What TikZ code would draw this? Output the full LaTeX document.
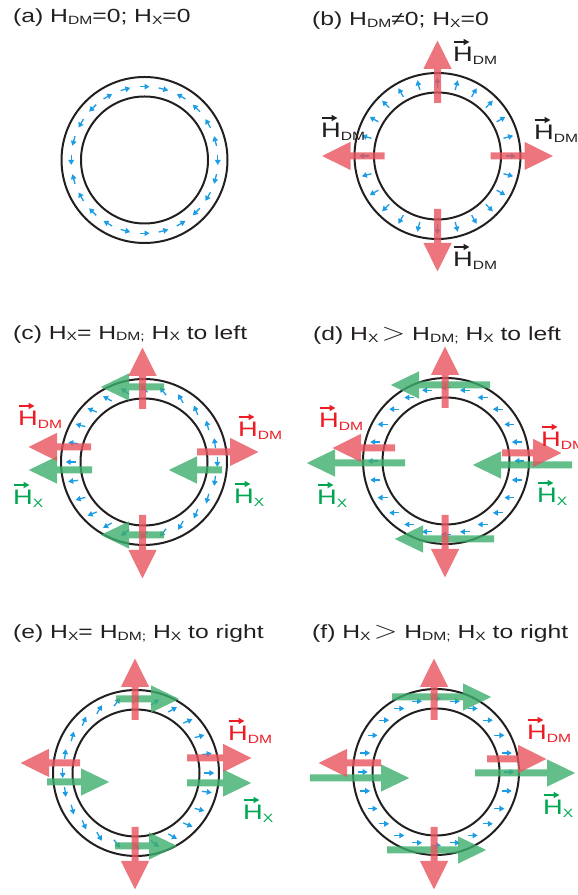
\documentclass[tikz,border=0pt]{standalone}
\usepackage{fontspec}
\setmainfont{Liberation Sans}[FakeStretch=1.3]
\usepackage{xcolor}
\usepackage{graphicx}
\usepackage{tikz}
\usetikzlibrary{arrows.meta}
\definecolor{inkblack}{HTML}{231F20}
\definecolor{spinblue}{HTML}{1B9CE5}
\definecolor{dmpink}{HTML}{E8545E}
\definecolor{xgreen}{HTML}{3DAE6C}
\definecolor{dmred}{HTML}{ED1C24}
\definecolor{hxgreen}{HTML}{00A651}
\newcommand{\lowsub}[2][1.2pt]{\raisebox{-#1}{\fontsize{12}{12}\selectfont #2}}
\newcommand{\thingt}{\scalebox{1.8}[1.45]{$>$}}
\tikzset{
  ring/.style={draw=inkblack, line width=2pt},
  spin/.style={draw=spinblue, line width=1.3pt, -{Triangle[length=5pt,width=5.5pt]}},
  dmfield/.style={draw=dmpink, line width=7pt, -{Triangle[length=29pt,width=26pt]}},
  xfield/.style={draw=xgreen, line width=7pt, -{Triangle[length=29pt,width=25pt]}},
  paneltitle/.style={anchor=base west, inner sep=0pt, text=inkblack, font=\fontsize{19}{19}\selectfont},
  fieldlabel/.style={anchor=base west, inner sep=0pt, font=\fontsize{21}{21}\selectfont},
  vecbar/.style={line width=1.4pt, -{Triangle[length=6pt,width=6pt]}},
}

\begin{document}
\begin{tikzpicture}[x=1pt, y=1pt]
  \useasboundingbox (0,0) rectangle (578,895);

  % (a) no fields
  \node[paneltitle] (ta) at (13,872) {(a) H\lowsub{DM}=0; H\lowsub{X}=0};
  \begin{scope}[shift={(144.5,735)}]
    \draw[ring] (0,0) circle[radius=83pt] (0,0) circle[radius=63.5pt];
    \foreach \t in {0,15,...,345} {
      \pgfmathsetmacro\m{mod(\t,120)}
      \pgfmathsetmacro\ang{(\m>=15 && \m<=60) ? \t+90 : \t-90}
      \draw[spin] (\t:73.3) ++(\ang+180:5) -- ++(\ang:10);
    }
  \end{scope}

  % (b) DM field only
  \node[paneltitle] (tb) at (312,869) {(b) H\lowsub{DM}≠0; H\lowsub{X}=0};
  \begin{scope}[shift={(437.5,739)}]
    \draw[ring] (0,0) circle[radius=83pt] (0,0) circle[radius=63.5pt];
    \foreach \t in {0,15,...,345}
      \draw[spin] (\t:73.3) ++(\t+180:5) -- ++(\t:10);
    \begin{scope}[transparency group, opacity=.8]
      \foreach \a in {0,90,180,270}
        \draw[dmfield] (\a:53) -- (\a:116);
    \end{scope}
  \end{scope}
  \foreach \n/\x/\y in {t/453/833, r/534/755, l/321/757, b/453/628} {
    \node[fieldlabel, text=inkblack] (hb\n) at (\x,\y) {H\lowsub[2.3pt]{DM}};
    \draw[vecbar, inkblack] ([xshift=.5pt, yshift=20pt]hb\n.base west) -- ++(16,0);
  }

  % (c) Hx = Hdm, to left
  \node[paneltitle] (tc) at (13,555.5) {(c) H\lowsub{X}= H\lowsub{DM;} H\lowsub{X} to left};
  \begin{scope}[shift={(144,433)}]
    \draw[ring] (0,0) circle[radius=83pt] (0,0) circle[radius=63.5pt];
    \foreach \t in {15,30,...,360} {
      \pgfmathsetmacro\ang{\t/2+90}
      \draw[spin] (\t:73.3) ++(\ang+180:5) -- ++(\ang:10);
    }
    \begin{scope}[transparency group, opacity=.8]
      \draw[xfield] (20,75) -- (-44,75);
      \draw[xfield] (20,-73) -- (-44,-73);
      \draw[xfield] (-52,-8) -- (-116,-8);
      \draw[xfield] (78,-8) -- (24,-8);
    \end{scope}
    \begin{scope}[transparency group, opacity=.8]
      \draw[dmfield] (-1.5,53) -- (-1.5,115);
      \draw[dmfield] (-1.5,-53) -- (-1.5,-117);
      \draw[dmfield] (-53,15) -- (-116,15);
      \draw[dmfield] (53,10) -- (115,10);
    \end{scope}
  \end{scope}

  % (d) Hx > Hdm, to left
  \node[paneltitle] (td) at (313,554) {(d) H\lowsub{X}\,\thingt\ H\lowsub{DM;} H\lowsub{X} to left};
  \begin{scope}[shift={(446,434)}]
    \draw[ring] (0,0) circle[radius=83pt] (0,0) circle[radius=63.5pt];
    \foreach \t in {0,15,...,345}
      \draw[spin] (\t:73.3) ++(0:5) -- ++(180:10);
    \begin{scope}[transparency group, opacity=.8]
      \draw[xfield] (44,76) -- (-56,76);
      \draw[xfield] (48,-78) -- (-52,-78);
      \draw[xfield] (-41,-2) -- (-140,-2);
      \draw[xfield] (126,-4) -- (26,-4);
    \end{scope}
    \begin{scope}[transparency group, opacity=.8]
      \draw[dmfield] (-1,53) -- (-1,115);
      \draw[dmfield] (-1,-54) -- (-1,-117);
      \draw[dmfield] (-51,13) -- (-114,13);
      \draw[dmfield] (56,8) -- (116,8);
    \end{scope}
  \end{scope}

  % labels (c) to (f)
  \foreach \n/\x/\y in {cl/18/469, cr/238/458, dl/319/467, dr/541/448, er/228/154, fr/527/155} {
    \node[fieldlabel, text=dmred] (hd\n) at (\x,\y) {H\lowsub[2.3pt]{DM}};
    \draw[vecbar, dmred] ([xshift=.5pt, yshift=20pt]hd\n.base west) -- ++(16,0);
  }
  \foreach \n/\x/\y in {cl/13/390, cr/234/391, dl/317/390, dr/537/392, er/243/75, fr/543/80} {
    \node[fieldlabel, text=hxgreen] (hx\n) at (\x,\y) {H\lowsub[2.3pt]{X}};
    \draw[vecbar, hxgreen] ([xshift=.5pt, yshift=20pt]hx\n.base west) -- ++(16,0);
  }

  % (e) Hx = Hdm, to right
  \node[paneltitle] (te) at (13,256) {(e) H\lowsub{X}= H\lowsub{DM;} H\lowsub{X} to right};
  \begin{scope}[shift={(136,122)}]
    \draw[ring] (0,0) circle[radius=83pt] (0,0) circle[radius=63.5pt];
    \foreach \t in {-180,-165,...,165} {
      \pgfmathsetmacro\ang{\t/2}
      \draw[spin] (\t:73.3) ++(\ang+180:5) -- ++(\ang:10);
    }
    \begin{scope}[transparency group, opacity=.8]
      \draw[xfield] (-20,74) -- (44,74);
      \draw[xfield] (-21,-73) -- (42,-73);
      \draw[xfield] (-89,-9) -- (-26,-9);
      \draw[xfield] (51,-10) -- (116,-10);
    \end{scope}
    \begin{scope}[transparency group, opacity=.8]
      \draw[dmfield] (-1,53) -- (-1,115);
      \draw[dmfield] (-1,-54) -- (-1,-117);
      \draw[dmfield] (-56,10) -- (-116,10);
      \draw[dmfield] (51,15) -- (116,15);
    \end{scope}
  \end{scope}

  % (f) Hx > Hdm, to right
  \node[paneltitle] (tf) at (312,256) {(f) H\lowsub{X}\,\thingt\ H\lowsub{DM;} H\lowsub{X} to right};
  \begin{scope}[shift={(436,123)}]
    \draw[ring] (0,0) circle[radius=83pt] (0,0) circle[radius=63.5pt];
    \foreach \t in {0,15,...,345}
      \draw[spin] (\t:73.3) ++(180:5) -- ++(0:10);
    \begin{scope}[transparency group, opacity=.8]
      \draw[xfield] (-44,75) -- (56,75);
      \draw[xfield] (-49,-78) -- (51,-78);
      \draw[xfield] (-126,-6) -- (-26,-6);
      \draw[xfield] (39,-1) -- (140,-1);
    \end{scope}
    \begin{scope}[transparency group, opacity=.8]
      \draw[dmfield] (-2,52) -- (-2,114);
      \draw[dmfield] (-2,-55) -- (-2,-118);
      \draw[dmfield] (-55,9) -- (-118,9);
      \draw[dmfield] (51,13) -- (111,13);
    \end{scope}
  \end{scope}
\end{tikzpicture}
\end{document}
